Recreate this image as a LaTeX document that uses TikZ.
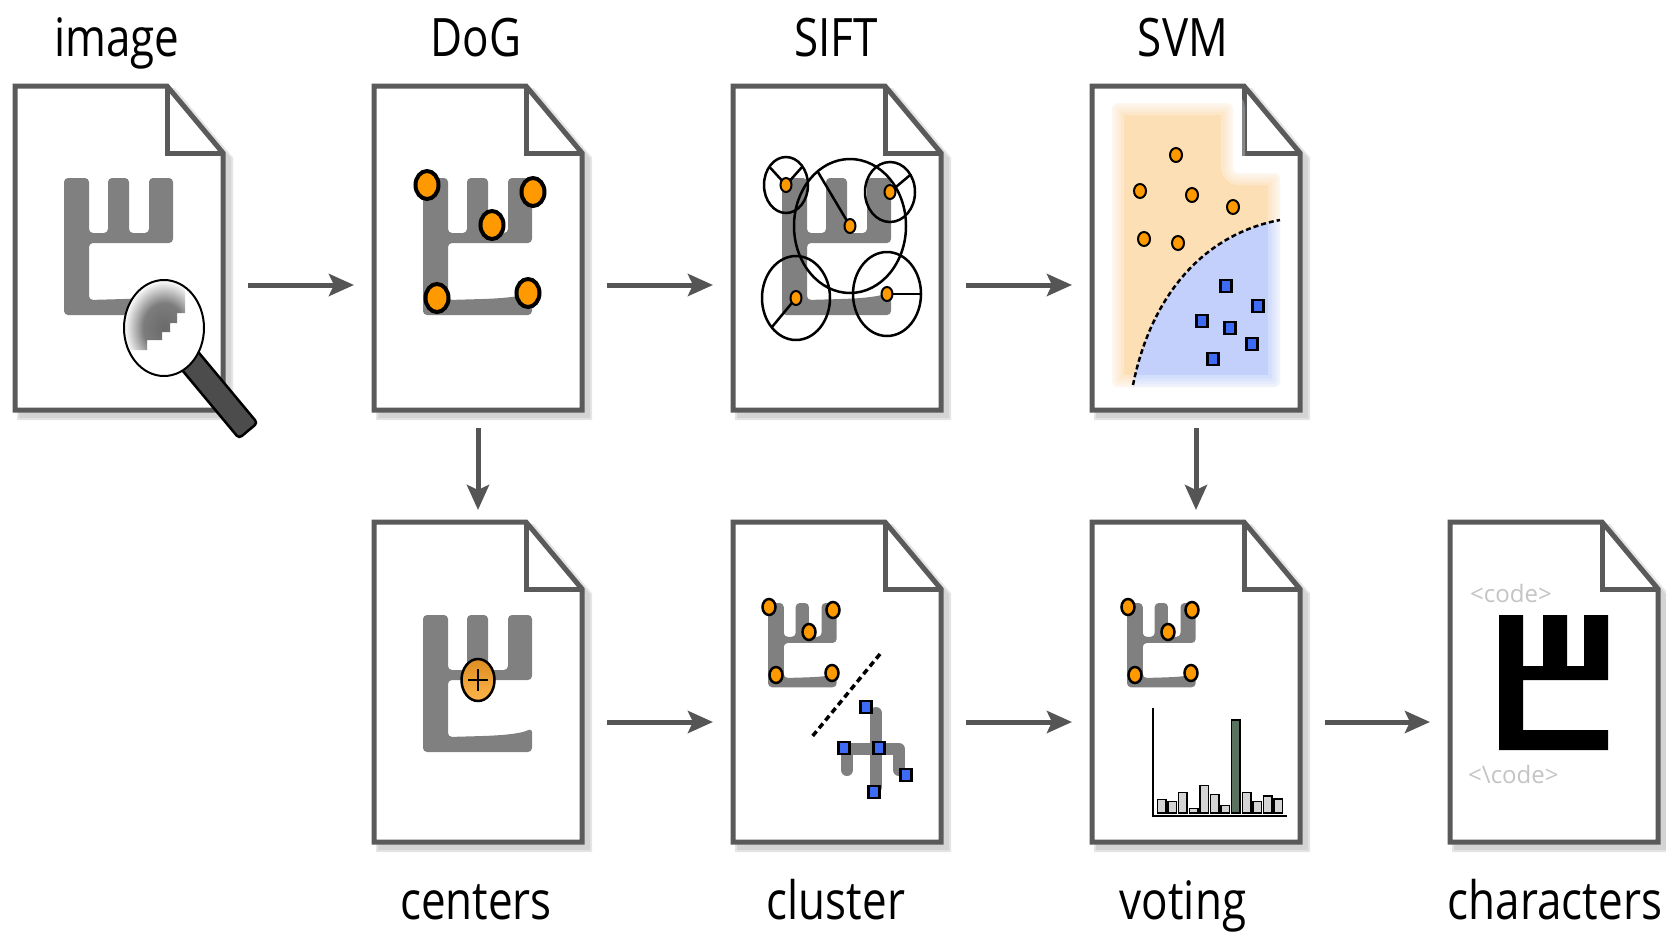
\documentclass[tikz,border=0pt]{standalone}
\usepackage{fontspec}
\setmainfont{Open Sans}[FakeStretch=0.83]
\newfontfamily\codefont{Open Sans}
\usetikzlibrary{arrows.meta}

\definecolor{docline}{HTML}{5A5A5A}
\definecolor{docshadow}{HTML}{D4D4D4}
\definecolor{flowgray}{HTML}{555555}
\definecolor{glyphgray}{HTML}{808080}
\definecolor{kporange}{HTML}{FF9900}
\definecolor{kpblue}{HTML}{3D6BF5}
\definecolor{regorange}{HTML}{FDDFB6}
\definecolor{regblue}{HTML}{C3D0FB}
\definecolor{barfill}{HTML}{D4D4D4}
\definecolor{peakfill}{HTML}{5B7261}
\definecolor{handlegray}{HTML}{4C4C4C}
\definecolor{codegray}{HTML}{C4C4C4}
\definecolor{lensdark}{HTML}{6A6A6A}
\definecolor{lensmid}{HTML}{7C7C7C}
\definecolor{centop}{HTML}{DB8E22}
\definecolor{cenbot}{HTML}{FFB54A}

% magnified pixels fade out towards the rim of the lens
\pgfdeclareradialshading{lensfade}{\pgfpoint{0bp}{0bp}}{color(0bp)=(lensdark); color(13bp)=(lensmid); color(25bp)=(white); color(50bp)=(white)}

\tikzset{
  sheet/.style={minimum width=208pt, minimum height=#1, inner sep=0pt, outer sep=0pt},
  shadowoff/.style={xshift=6pt, yshift=-6pt},
  flow/.style={draw=flowgray, line width=5pt, -{Stealth[length=25pt, width=22pt, inset=5pt]}},
  caption/.style={anchor=base, inner sep=0pt, font=\fontsize{53}{60}\selectfont},
  codetext/.style={anchor=base west, inner sep=0pt, text=codegray, font=\codefont\fontsize{24}{28}\selectfont},
  bigdot/.style={fill=kporange, draw=black, line width=4pt},
  smalldot/.style={fill=kporange, draw=black, line width=2pt},
  meddot/.style={fill=kporange, draw=black, line width=2.5pt},
  keysq/.style={fill=kpblue, draw=black, line width=2.5pt},
  siftring/.style={draw=black, line width=2.5pt},
}

% a sheet of paper with a folded corner, drawn around a named node
\newcommand\drawsheet[1]{%
  \filldraw[docshadow!60, line width=8pt, line join=miter]
    ([shadowoff]#1.north west) -- ([shadowoff,xshift=-56pt]#1.north east)
    -- ([shadowoff,yshift=-67pt]#1.north east) -- ([shadowoff]#1.south east)
    -- ([shadowoff]#1.south west) -- cycle;
  \filldraw[docshadow, line width=4pt, line join=miter]
    ([shadowoff]#1.north west) -- ([shadowoff,xshift=-56pt]#1.north east)
    -- ([shadowoff,yshift=-67pt]#1.north east) -- ([shadowoff]#1.south east)
    -- ([shadowoff]#1.south west) -- cycle;
  \filldraw[fill=white, draw=docline, line width=5pt, line join=miter]
    (#1.north west) -- ([xshift=-56pt]#1.north east)
    -- ([yshift=-67pt]#1.north east) -- (#1.south east)
    -- (#1.south west) -- cycle;
  \draw[docline, line width=5pt, line join=miter]
    ([xshift=-56pt]#1.north east) |- ([yshift=-67pt]#1.north east);
}

% the handwritten character, soft grey strokes (local units, y down)
\newcommand\softglyph{%
  \fill[glyphgray, rounded corners=4pt]
    (0,0) -- (25,0) -- (25,55) -- (44,55) -- (44,0) -- (65,0) -- (65,55)
    -- (85,55) -- (85,0) -- (109,0) -- (109,65) -- (25,65) -- (25,122)
    -- (60,121) .. controls (85,120) and (100,118) .. (109,113)
    -- (109,137) -- (0,137) -- cycle;
}

% the recognised character, solid black
\newcommand\blockglyph{%
  \fill[black]
    (0,0) -- (24,0) -- (24,51) -- (44,51) -- (44,0) -- (68,0) -- (68,51)
    -- (85,51) -- (85,0) -- (109,0) -- (109,65) -- (24,65) -- (24,115)
    -- (109,115) -- (109,135) -- (0,135) -- cycle;
}

% small character with its five keypoints
\newcommand\smallkeypoints{%
  \begin{scope}[shift={(35,81)}, xscale=0.63, yscale=0.615]
    \softglyph
  \end{scope}
  \foreach \x/\y in {36/85, 100/88, 76/110, 43/153, 99/151}
    \filldraw[meddot] (\x,\y) ellipse [x radius=6.5pt, y radius=8pt];
}

\begin{document}
\begin{tikzpicture}[x=1pt, y=-1pt]
\fill[white] (0,0) rectangle (1666,932);
\useasboundingbox (0,0) rectangle (1666,932);

% sheets
\node[sheet=324pt] (sImage)    at (119,248) {};
\node[sheet=324pt] (sDog)      at (478,248) {};
\node[sheet=324pt] (sSift)     at (837,248) {};
\node[sheet=324pt] (sSvm)      at (1196,248) {};
\node[sheet=320pt] (sCenters)  at (478,682) {};
\node[sheet=320pt] (sCluster)  at (837,682) {};
\node[sheet=320pt] (sVoting)   at (1196,682) {};
\node[sheet=320pt] (sChars)    at (1554,682) {};

\foreach \s in {sImage,sDog,sSift,sSvm,sCenters,sCluster,sVoting,sChars}
  \drawsheet{\s};

% image: character under a magnifying glass
\begin{scope}[shift={(sImage.north west)}]
  \begin{scope}[shift={(49,92)}] \softglyph \end{scope}
  \begin{scope}[shift={(166,264)}, rotate=-50.2]
    \filldraw[fill=handlegray, draw=black, line width=2.5pt, rounded corners=3.5pt]
      (0,-12) rectangle (105,12);
  \end{scope}
  \fill[white] (149,242) ellipse [x radius=40pt, y radius=48pt];
  \begin{scope}
    \clip (95,185) -- (170,185) -- (170,227) -- (162,227) -- (162,237)
      -- (155,237) -- (155,246) -- (147,246) -- (147,254) -- (132,254)
      -- (132,264) -- (95,264) -- cycle;
    \shade[shading=lensfade] (149,242) ellipse [x radius=40pt, y radius=48pt];
  \end{scope}
  \draw[black, line width=2pt] (149,242) ellipse [x radius=40pt, y radius=48pt];
\end{scope}

% DoG: detected keypoints
\begin{scope}[shift={(sDog.north west)}]
  \begin{scope}[shift={(49,92)}] \softglyph \end{scope}
  \foreach \x/\y in {53/99, 159/106, 118/139, 63/212, 154/207}
    \filldraw[bigdot] (\x,\y) ellipse [x radius=11.5pt, y radius=14pt];
\end{scope}

% SIFT: descriptor regions with orientations
\begin{scope}[shift={(sSift.north west)}]
  \begin{scope}[shift={(49,92)}] \softglyph \end{scope}
  \draw[siftring] (53,99) ellipse [x radius=22pt, y radius=28pt];
  \draw[siftring] (117,140) ellipse [x radius=56pt, y radius=67pt];
  \draw[siftring] (157,106) ellipse [x radius=25pt, y radius=30pt];
  \draw[siftring] (63,212) ellipse [x radius=34pt, y radius=42pt];
  \draw[siftring] (154,208) ellipse [x radius=34pt, y radius=42pt];
  \draw[siftring] (36.2,80.6) -- (53,99) -- (69.4,80.6);
  \draw[siftring] (117,140) -- (84.6,85.4);
  \draw[siftring] (157,106) -- (177.5,88.7);
  \draw[siftring] (63,212) -- (39,241);
  \draw[siftring] (154,208) -- (188,208);
  \foreach \x/\y in {53/99, 157/106, 117/140, 63/212, 154/208}
    \filldraw[smalldot] (\x,\y) ellipse [x radius=5.5pt, y radius=7pt];
\end{scope}

% SVM: two classes split by a curved boundary
\begin{scope}[shift={(sSvm.north west)}]
  \fill[regorange, rounded corners=6pt]
    (20,17) -- (141,17) -- (141,87) -- (188,87) -- (188,301) -- (20,301) -- cycle;
  \begin{scope}
    \clip (41,299) .. controls (58,214) and (108,149) .. (188,134)
      -- (205,134) -- (205,315) -- (41,315) -- cycle;
    \fill[regblue, rounded corners=6pt]
      (20,17) -- (141,17) -- (141,87) -- (188,87) -- (188,301) -- (20,301) -- cycle;
  \end{scope}
  \foreach \w in {24,17,11,6,2}
    \draw[white, opacity=0.28, line width=\w pt, rounded corners=6pt]
      (20,17) -- (141,17) -- (141,87) -- (188,87) -- (188,301) -- (20,301) -- cycle;
  \draw[black, line width=2.5pt, dash pattern=on 5pt off 3pt]
    (41,299) .. controls (58,214) and (108,149) .. (188,134);
  \foreach \x/\y in {84/69, 48/105, 100/109, 141/121, 52/153, 86/157}
    \filldraw[smalldot] (\x,\y) ellipse [x radius=6pt, y radius=7pt];
  \foreach \x/\y in {134/200, 166/220, 110/235, 138/242, 160/258, 121/273}
    \filldraw[keysq] ({\x-5.5},{\y-6}) rectangle ({\x+5.5},{\y+6});
\end{scope}

% centers: the centre of the keypoints
\begin{scope}[shift={(sCenters.north west)}]
  \begin{scope}[shift={(49,93)}] \softglyph \end{scope}
  \draw[line width=2.5pt, top color=centop, bottom color=cenbot]
    (104,158) ellipse [x radius=16.5pt, y radius=21pt];
  \draw[black, line width=2pt] (94,158) -- (114,158) (104,147) -- (104,169);
\end{scope}

% cluster: keypoints separated from another character
\begin{scope}[shift={(sCluster.north west)}]
  \smallkeypoints
  \draw[black, line width=3.5pt, dash pattern=on 6pt off 4pt] (147,132) -- (78,216);
  \draw[glyphgray, line width=12pt, line cap=round] (143,191) -- (143,265);
  \draw[glyphgray, line width=12pt, line cap=round, line join=round]
    (114,248) -- (114,227) -- (166,227) -- (166,248);
  \foreach \x/\y in {133/185, 111/226, 146/226, 173/253, 141/270}
    \filldraw[keysq] ({\x-5.5},{\y-6}) rectangle ({\x+5.5},{\y+6});
\end{scope}

% voting: histogram with one winning bin
\begin{scope}[shift={(sVoting.north west)}]
  \smallkeypoints
  \foreach \i/\h in {0/277.3, 1/279.7, 2/270.3, 3/286.3, 4/263.7, 5/272.7,
                     6/283.7, 8/270.3, 9/279.7, 10/274, 11/277}
    \filldraw[fill=barfill, draw=black, line width=1.5pt]
      ({65.5+10.6*\i},291) rectangle ({74+10.6*\i},\h);
  \filldraw[fill=peakfill, draw=black, line width=1.5pt]
    ({65.5+10.6*7},291) rectangle ({74+10.6*7},198);
  \draw[black, line width=2.5pt] (61,186) -- (61,294) -- (195,294);
\end{scope}

% characters: the output code
\begin{scope}[shift={(sChars.north west)}]
  \begin{scope}[shift={(49,93)}] \blockglyph \end{scope}
  \node[codetext] (codeOpen) at (20,80) {<code>};
  \node[codetext] (codeClose) at (18,261) {<\textbackslash code>};
\end{scope}

% flow between the stages
\draw[flow, shorten <=25pt, shorten >=20pt]
  ([yshift=-199pt]sImage.north east) -- ([yshift=-199pt]sDog.north west);
\draw[flow, shorten <=25pt, shorten >=20pt]
  ([yshift=-199pt]sDog.north east) -- ([yshift=-199pt]sSift.north west);
\draw[flow, shorten <=25pt, shorten >=20pt]
  ([yshift=-199pt]sSift.north east) -- ([yshift=-199pt]sSvm.north west);
\draw[flow, shorten <=25pt, shorten >=20pt]
  ([yshift=-200pt]sCenters.north east) -- ([yshift=-200pt]sCluster.north west);
\draw[flow, shorten <=25pt, shorten >=20pt]
  ([yshift=-200pt]sCluster.north east) -- ([yshift=-200pt]sVoting.north west);
\draw[flow, shorten <=25pt, shorten >=20pt]
  ([yshift=-200pt]sVoting.north east) -- ([yshift=-200pt]sChars.north west);
\draw[flow, shorten <=18pt, shorten >=12pt] (sDog.south) -- (sCenters.north);
\draw[flow, shorten <=18pt, shorten >=12pt] (sSvm.south) -- (sVoting.north);

% stage names
\node[caption] (capImage)   at (117,56)  {image};
\node[caption] (capDog)     at (476,56)  {DoG};
\node[caption] (capSift)    at (836,56)  {SIFT};
\node[caption] (capSvm)     at (1183,56) {SVM};
\node[caption] (capCenters) at (476,919) {centers};
\node[caption] (capCluster) at (836,919) {cluster};
\node[caption] (capVoting)  at (1183,919) {voting};
\node[caption] (capChars)   at (1555,919) {characters};
\end{tikzpicture}
\end{document}
